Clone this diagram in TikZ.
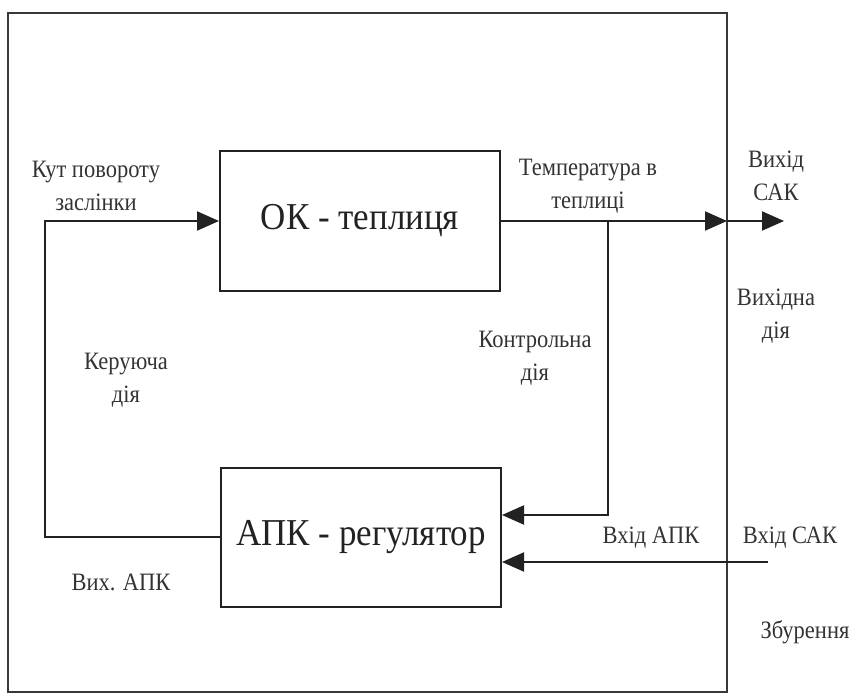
\documentclass[tikz,border=0pt]{standalone}
\usepackage{fontspec}
\setmainfont{Liberation Serif}
\newfontfamily\lblfont{Liberation Serif}[FakeStretch=0.9]
\newfontfamily\blkfont{Liberation Serif}[FakeStretch=0.92]
\usetikzlibrary{arrows.meta}
\definecolor{ln}{HTML}{222222}
\definecolor{tx}{HTML}{333333}
\begin{document}
\begin{tikzpicture}[x=1pt,y=-1pt,
  blk/.style={draw=ln,line width=2pt,minimum width=280pt,minimum height=139pt,inner sep=0pt,font=\blkfont\fontsize{38}{42}\selectfont,text=ln},
  wire/.style={draw=ln,line width=2pt},
  arr/.style={wire,-{Triangle[length=22pt,width=19pt]}},
  lbl/.style={text=tx,font=\lblfont\fontsize{25}{33}\selectfont,align=center,inner sep=0pt}]
\useasboundingbox (0,0) rectangle (854,695);
\node[draw=ln!90,line width=2.6pt,minimum width=719pt,minimum height=679pt,inner sep=0pt] (sys) at (367.5,352.5) {};
\node[blk] (ok) at (360,221) {ОК - теплиця};
\node[blk] (apk) at (361,537) {АПК - регулятор};
\coordinate (lc) at (45,221);
\coordinate (lb) at (45,537);
\coordinate (fb) at (608,221);
\coordinate (fd) at (608,515);
\coordinate (sysout) at (727,221);
\coordinate (out) at (784,221);
\coordinate (din) at (768,562);
\draw[arr] (apk.west) -- (lb) -- (lc) -- (ok.west);
\draw[arr] (ok.east) -- (sysout);
\draw[arr] (sysout) -- (out);
\draw[arr] (fb) -- (fd) -- (fd -| apk.east);
\draw[arr] (din) -- (din -| apk.east);
\node[lbl] (t1) at (96,186) {Кут повороту\\заслінки};
\node[lbl] (t2) at (588,186) {Температура в\\теплиці};
\node[lbl] (t3) at (776,176) {Вихід\\САК};
\node[lbl] (t4) at (776,316) {Вихідна\\дія};
\node[lbl] (t5) at (535,358) {Контрольна\\дія};
\node[lbl] (t6) at (126,380) {Керуюча\\дія};
\node[lbl] (t7) at (651,538) {Вхід АПК};
\node[lbl] (t8) at (790,538) {Вхід САК};
\node[lbl] (t9) at (121,582) {Вих. АПК};
\node[lbl] (t10) at (805,632) {Збурення};
\end{tikzpicture}
\end{document}
